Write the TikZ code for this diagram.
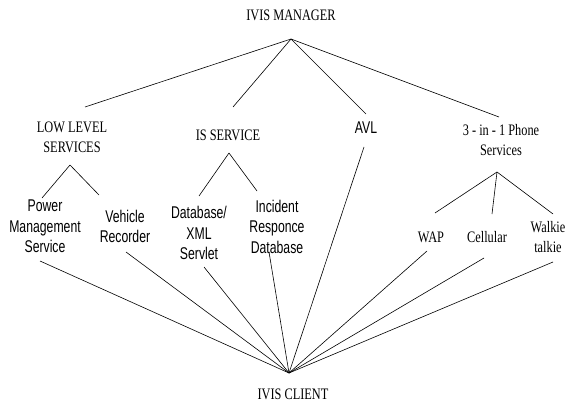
\documentclass[tikz,border=0pt]{standalone}
\usepackage{fontspec}
\usepackage{tikz}
\usetikzlibrary{positioning}
\newfontfamily\labelserif[FakeStretch=0.77]{Liberation Serif}
\newfontfamily\labelsans[FakeStretch=0.72]{Liberation Sans}

\begin{document}
\begin{tikzpicture}[
  on grid,
  serifbox/.style={inner sep=0pt,align=center,font=\labelserif\fontsize{16}{20}\selectfont},
  sansbox/.style={inner sep=0pt,align=center,font=\labelsans\fontsize{17}{20.5}\selectfont},
  every edge/.style={draw,line width=0.6pt},
]
  \useasboundingbox (0pt,0pt) rectangle (565pt,-404pt);

  % Manager
  \node[serifbox] (mgr) at (291pt,-15pt) {IVIS MANAGER};
  \coordinate (mgrhub) at ([yshift=-24pt]mgr.center);

  % Service layer
  \node[serifbox,below left=122pt and 219pt of mgr] (low) {LOW LEVEL\\SERVICES};
  \node[serifbox,below left=120pt and 63pt of mgr] (is) {IS SERVICE};
  \node[sansbox,below right=113pt and 75pt of mgr] (avl) {AVL};
  \node[serifbox,below right=125pt and 210pt of mgr] (phone) {3 - in - 1 Phone\\Services};

  \coordinate (lowhub) at ([shift={(-2pt,-28pt)}]low.center);
  \coordinate (ishub) at ([shift={(1pt,-18pt)}]is.center);
  \coordinate (phonehub) at ([shift={(-4pt,-32pt)}]phone.center);

  % Leaf layer
  \node[sansbox,below left=89.5pt and 27pt of low] (pms) {Power\\Management\\Service};
  \node[sansbox,below right=89.5pt and 53pt of low] (vch) {Vehicle\\Recorder};
  \node[sansbox,below left=98pt and 29pt of is] (dxs) {Database/\\XML\\Servlet};
  \node[sansbox,below right=91.5pt and 49pt of is] (ird) {Incident\\Responce\\Database};
  \node[serifbox,below left=97pt and 70pt of phone] (wap) {WAP};
  \node[serifbox,below left=97pt and 14pt of phone] (cel) {Cellular};
  \node[serifbox,below right=97pt and 47pt of phone] (wt) {Walkie\\talkie};

  % Client
  \node[serifbox,below right=379pt and 2pt of mgr] (client) {IVIS CLIENT};
  \coordinate (clienthub) at ([shift={(-4pt,21pt)}]client.center);

  % Edges: manager
  \path (mgrhub) edge ([shift={(13pt,30pt)}]low.center);
  \path (mgrhub) edge ([shift={(5pt,28pt)}]is.center);
  \path (mgrhub) edge ([shift={(0pt,14pt)}]avl.center);
  \path (mgrhub) edge ([shift={(-2pt,23pt)}]phone.center);

  % Edges: services
  \path (lowhub) edge ([shift={(-3pt,28.5pt)}]pms.center);
  \path (lowhub) edge ([shift={(-26pt,31.5pt)}]vch.center);
  \path (ishub) edge ([shift={(0pt,37pt)}]dxs.center);
  \path (ishub) edge ([shift={(-20pt,35.5pt)}]ird.center);
  \path (phonehub) edge ([shift={(4pt,24pt)}]wap.center);
  \path (phonehub) edge ([shift={(5pt,23pt)}]cel.center);
  \path (phonehub) edge ([shift={(5pt,23pt)}]wt.center);

  % Edges: client
  \path ([shift={(-5pt,-34.5pt)}]pms.center) edge (clienthub);
  \path ([shift={(1pt,-25.5pt)}]vch.center) edge (clienthub);
  \path ([shift={(5pt,-34pt)}]dxs.center) edge (clienthub);
  \path ([shift={(-8pt,-25.5pt)}]ird.center) edge (clienthub);
  \path ([shift={(-2pt,-19pt)}]avl.center) edge (clienthub);
  \path ([shift={(-4pt,-14pt)}]wap.center) edge (clienthub);
  \path ([shift={(-3pt,-21pt)}]cel.center) edge (clienthub);
  \path ([shift={(5pt,-25pt)}]wt.center) edge (clienthub);
\end{tikzpicture}
\end{document}
